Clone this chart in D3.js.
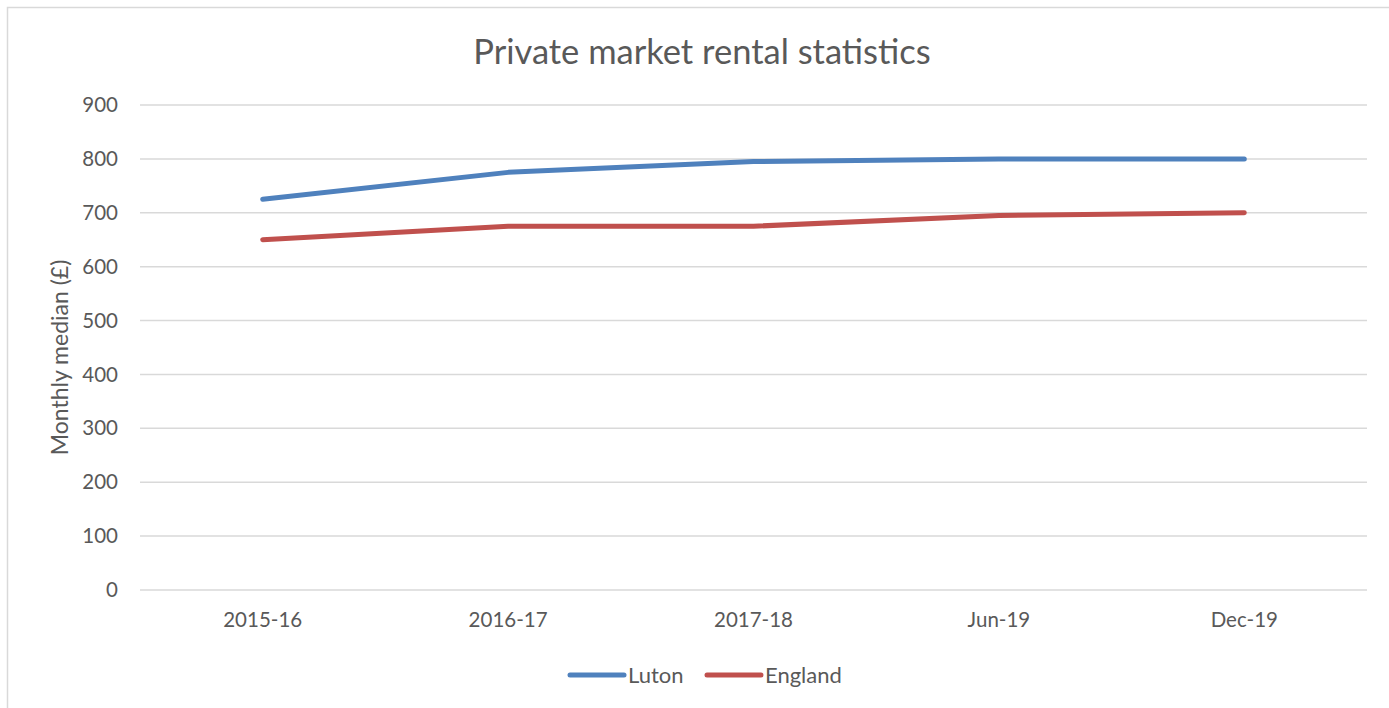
<!DOCTYPE html>
<html lang="en">
<head>
<meta charset="UTF-8">
<title>Private market rental statistics</title>
<script src="https://cdn.jsdelivr.net/npm/d3@7"></script>
<style>
  body { margin: 0; background: #fff; }
  text { font-family: Lato, "Open Sans", sans-serif; fill: #595959; }
</style>
</head>
<body>
<script>
// chart data
const categories = ['2015-16', '2016-17', '2017-18', 'Jun-19', 'Dec-19'];
const luton = [725, 775, 795, 800, 800];
const england = [650, 675, 675, 695, 700];
const yTicks = [0, 100, 200, 300, 400, 500, 600, 700, 800, 900];

const series = [
  { name: 'Luton', values: luton, color: '#4F81BD' },
  { name: 'England', values: england, color: '#C0504D' }
];

const W = 1389, H = 708;
const svg = d3.select('body').append('svg').attr('width', W).attr('height', H);

// chart border
svg.append('rect').attr('x', 7.5).attr('y', 7.5).attr('width', W + 10).attr('height', H + 10)
  .attr('fill', '#fff').attr('stroke', '#d9d9d9').attr('stroke-width', 1.5);

const plotLeft = 140, plotRight = 1367, plotTop = 105, plotBottom = 590;

const x = d3.scaleBand().domain(categories).range([plotLeft, plotRight]);
const y = d3.scaleLinear().domain([0, 900]).range([plotBottom, plotTop]);

// gridlines
svg.append('g').selectAll('line').data(yTicks).join('line')
  .attr('x1', plotLeft).attr('x2', plotRight)
  .attr('y1', d => y(d)).attr('y2', d => y(d))
  .attr('stroke', '#d9d9d9').attr('stroke-width', 1.5);

// y axis labels
const yAxis = svg.append('g').attr('transform', `translate(${plotLeft},0)`)
  .call(d3.axisLeft(y).tickValues(yTicks).tickSize(0).tickPadding(22));
yAxis.select('.domain').remove();
yAxis.selectAll('text').style('font-size', '20.5px').attr('fill', '#595959')
  .style('font-family', 'Lato, "Open Sans", sans-serif');

// x axis labels
const xAxis = svg.append('g').attr('transform', `translate(0,${plotBottom})`)
  .call(d3.axisBottom(x).tickSize(0).tickPadding(22));
xAxis.select('.domain').remove();
xAxis.selectAll('text').style('font-size', '20.5px').attr('fill', '#595959')
  .style('font-family', 'Lato, "Open Sans", sans-serif');

// lines
const line = d3.line()
  .x((d, i) => x(categories[i]) + x.bandwidth() / 2)
  .y(d => y(d));

svg.append('g').selectAll('path').data(series).join('path')
  .attr('d', d => line(d.values))
  .attr('fill', 'none')
  .attr('stroke', d => d.color)
  .attr('stroke-width', 5)
  .attr('stroke-linecap', 'round')
  .attr('stroke-linejoin', 'round');

// title
svg.append('text').attr('x', 702).attr('y', 64).attr('text-anchor', 'middle')
  .style('font-size', '34.5px').text('Private market rental statistics');

// y axis title
svg.append('text')
  .attr('transform', `translate(68,${(plotTop + plotBottom) / 2 + 10}) rotate(-90)`)
  .attr('text-anchor', 'middle')
  .style('font-size', '23px').text('Monthly median (£)');

// legend
const legendX = [570, 707];
const legend = svg.append('g').selectAll('g').data(series).join('g')
  .attr('transform', (d, i) => `translate(${legendX[i]},675)`);
legend.append('line').attr('x1', 0).attr('x2', 54).attr('y1', 0).attr('y2', 0)
  .attr('stroke', d => d.color).attr('stroke-width', 5).attr('stroke-linecap', 'round');
legend.append('text').attr('x', 58).attr('y', 8).style('font-size', '22px').text(d => d.name);
</script>
</body>
</html>
